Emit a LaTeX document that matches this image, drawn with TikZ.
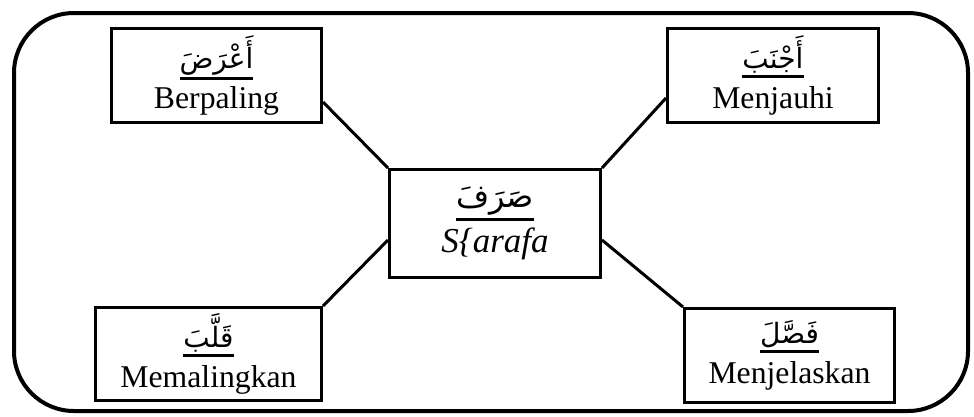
\documentclass[tikz,border=0pt]{standalone}
\usepackage{fontspec}
\setmainfont{Liberation Serif}
\newfontfamily\arabicfont[Script=Arabic]{DejaVu Sans}
\TeXXeTstate=1
\newcommand\arword[2][28]{\setbox0=\hbox{\arabicfont\fontsize{#1}{#1}\selectfont\beginR #2\endR}\vtop{\hbox{\copy0}\kern2pt\hrule height 3pt}}
\begin{document}
\begin{tikzpicture}[x=1pt,y=-1pt,
  wbox/.style={draw, line width=3pt, rectangle, inner sep=0pt, align=center,
    font=\fontsize{31.7}{40}\selectfont},
  link/.style={line width=3pt}]
\useasboundingbox (0,0) rectangle (974,416);
\draw[line width=4pt, rounded corners=60pt] (14,13) rectangle (968,411);
\node[wbox, minimum width=210pt, minimum height=94pt] (b1) at (216.5,75.5) {\arword{أَعْرَضَ}\\Berpaling};
\node[wbox, minimum width=211pt, minimum height=94pt] (b2) at (773,75.5) {\arword{أَجْنَبَ}\\Menjauhi};
\node[wbox, minimum width=211pt, minimum height=108pt, font=\fontsize{31.7}{45}\selectfont] (c) at (495,223.5) {\arword[32]{صَرَفَ}\\\fontsize{35}{45}\selectfont\itshape S\{arafa};
\node[wbox, minimum width=226pt, minimum height=93pt] (b3) at (208.5,354) {\arword{قَلَّبَ}\\Memalingkan};
\node[wbox, minimum width=210pt, minimum height=94pt] (b4) at (789.5,355.5) {\arword{فَصَّلَ}\\Menjelaskan};
\draw[link] ([yshift=-26.5pt]b1.east) -- (c.north west);
\draw[link] ([yshift=-22.5pt]b2.west) -- (c.north east);
\draw[link] (b3.north east) -- ([yshift=-16.5pt]c.west);
\draw[link] (b4.north west) -- ([yshift=-16.5pt]c.east);
\end{tikzpicture}
\end{document}
